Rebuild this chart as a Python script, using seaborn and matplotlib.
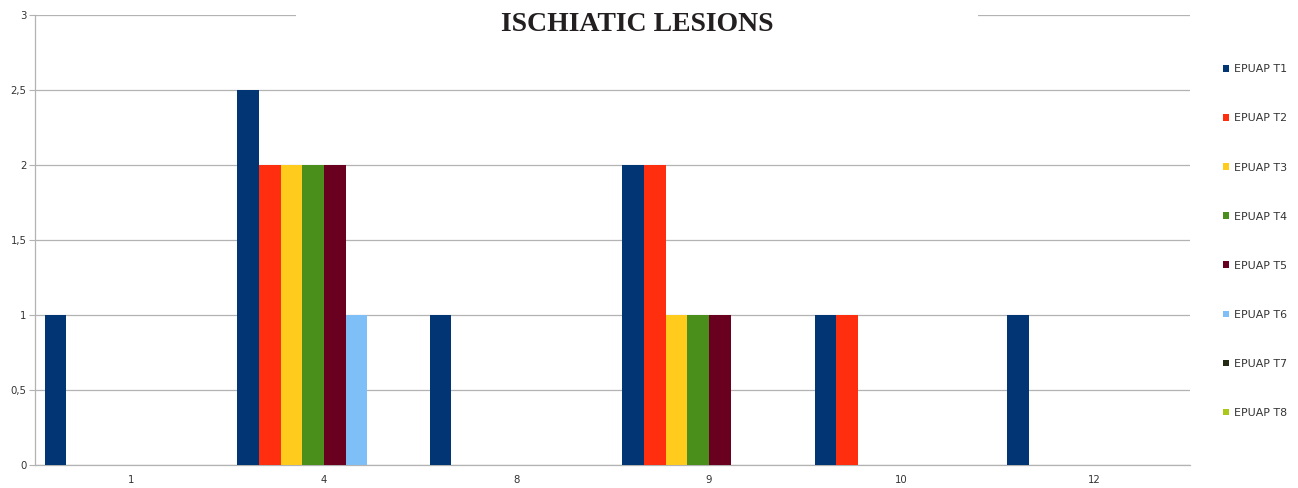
import pandas as pd
import matplotlib.pyplot as plt
import seaborn as sns
from matplotlib.patches import Rectangle

# ----------------------------
# Data
# ----------------------------

categories = ["1", "4", "8", "9", "10", "12"]
series = ["EPUAP T1", "EPUAP T2", "EPUAP T3", "EPUAP T4",
          "EPUAP T5", "EPUAP T6", "EPUAP T7", "EPUAP T8"]

t1 = [1, 2.5, 1, 2, 1, 1]
t2 = [0, 2, 0, 2, 1, 0]
t3 = [0, 2, 0, 1, 0, 0]
t4 = [0, 2, 0, 1, 0, 0]
t5 = [0, 2, 0, 1, 0, 0]
t6 = [0, 1, 0, 0, 0, 0]
t7 = [0, 0, 0, 0, 0, 0]
t8 = [0, 0, 0, 0, 0, 0]

colors = ["#023574", "#ff2e0e", "#ffcb1c", "#4a8f1c",
          "#6a0020", "#7fbff7", "#222a14", "#a9c81a"]

yticks = [0, 0.5, 1, 1.5, 2, 2.5, 3]
ytick_labels = ["0", "0,5", "1", "1,5", "2", "2,5", "3"]

rows = []
for name, vals in zip(series, [t1, t2, t3, t4, t5, t6, t7, t8]):
    for cat, v in zip(categories, vals):
        rows.append({"category": cat, "series": name, "value": v})
df = pd.DataFrame(rows)

# ----------------------------
# Plot
# ----------------------------

sns.set_style("white")
fig = plt.figure(figsize=(12.98, 4.88), dpi=100)
ax = fig.add_axes([0.0270, 0.047, 0.890, 0.922])

sns.barplot(
    data=df,
    x="category",
    y="value",
    hue="series",
    order=categories,
    hue_order=series,
    palette=colors,
    width=0.9,
    errorbar=None,
    linewidth=0,
    saturation=1,
    ax=ax,
    zorder=3
)

ax.set_ylim(0, 3)
ax.set_xlim(-0.5, len(categories) - 0.5)
ax.set_yticks(yticks)
ax.set_yticklabels(ytick_labels)
ax.set_xlabel("")
ax.set_ylabel("")
ax.tick_params(axis="both", labelsize=7.3, colors="#333333")
ax.tick_params(axis="y", length=4, width=0.8, color="#b3b3b3", pad=2, direction="out", left=True)
ax.tick_params(axis="x", length=0, pad=7)

ax.yaxis.grid(True, color="#b3b3b3", linewidth=0.9, zorder=0)
ax.set_axisbelow(True)
for side in ["top", "right"]:
    ax.spines[side].set_visible(False)
for side in ["left", "bottom"]:
    ax.spines[side].set_color("#b3b3b3")
    ax.spines[side].set_linewidth(0.9)

# white box behind the title, covering the top gridline
ax.add_patch(Rectangle((0.226, 0.985), 0.590, 0.05, transform=ax.transAxes,
                       facecolor="white", edgecolor="none", clip_on=False, zorder=5))
fig.text(0.491, 0.949, "ISCHIATIC LESIONS", ha="center", va="center",
         fontsize=20, fontweight="bold", family="Liberation Serif", color="#231f20")

# legend
handles, labels = ax.get_legend_handles_labels()
ax.legend_.remove()
leg = fig.legend(
    handles, labels,
    loc="upper left",
    bbox_to_anchor=(0.942, 0.868),
    frameon=False,
    fontsize=7.9,
    handlelength=0.55,
    handleheight=0.55,
    handletextpad=0.5,
    labelspacing=3.56,
    borderpad=0,
    borderaxespad=0
)
for t in leg.get_texts():
    t.set_color("#333333")

plt.savefig("out.png", dpi=100)
